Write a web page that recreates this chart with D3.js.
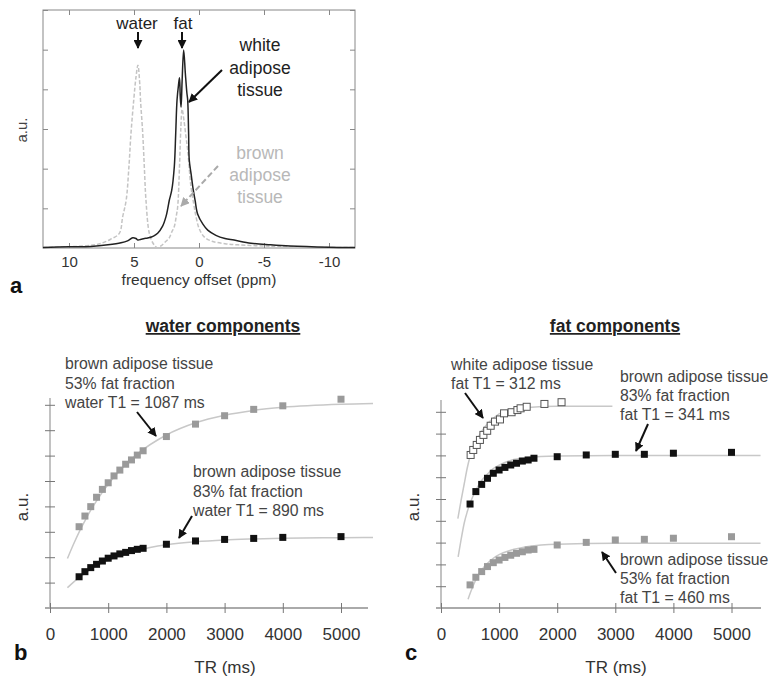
<!DOCTYPE html>
<html lang="en">
<head>
<meta charset="UTF-8">
<script src="https://d3js.org/d3.v7.min.js"></script>
<title>Adipose tissue spectra and T1</title>
<style>
    body { margin: 0; background: #fff; }
    svg { font-family: "Liberation Sans", Arial, sans-serif; }
    .tick text { fill: #333; }
    .ann { fill: #444; }
</style>
</head>
<body>
<div id="fig"></div>
<script>
// ---- panel a: spectra (ppm, a.u.) ----
const ppmWhite = [12, 10, 8.3, 7, 6, 5.5, 5.1, 4.85, 4.7, 4.45, 4.2, 3.95, 3.5, 3.18, 2.8, 2.54, 2.4, 2.28, 2.1, 1.9, 1.79, 1.69, 1.58, 1.5, 1.44, 1.38, 1.3, 1.18, 1.05, 0.93, 0.87, 0.8, 0.75, 0.6, 0.48, 0.3, 0.1, -0.3, -0.67, -1.3, -2, -2.7, -4, -5.5, -7, -10, -12];
const valWhite = [0.01, 0.03, 0.04, 0.08, 0.13, 0.18, 0.26, 0.24, 0.2, 0.22, 0.24, 0.25, 0.3, 0.37, 0.55, 0.79, 1.0, 1.21, 1.45, 2.05, 2.9, 3.73, 4.1, 4.29, 3.8, 3.55, 4.2, 4.99, 4.4, 3.9, 3.73, 2.9, 2.22, 1.85, 1.55, 1.2, 0.85, 0.6, 0.45, 0.32, 0.24, 0.2, 0.12, 0.08, 0.05, 0.02, 0.01];
const ppmBrown = [12, 10, 9, 8, 7.5, 6.8, 6.13, 5.87, 5.6, 5.4, 5.23, 5.02, 4.85, 4.7, 4.55, 4.5, 4.33, 4.2, 4.08, 3.82, 3.5, 3.18, 2.9, 2.6, 2.3, 2.1, 1.9, 1.75, 1.64, 1.5, 1.4, 1.3, 1.15, 1.0, 0.87, 0.62, 0.4, 0.23, 0, -0.4, -1, -2, -3, -5, -6, -8, -12];
const valBrown = [0.01, 0.03, 0.05, 0.08, 0.12, 0.22, 0.37, 0.79, 1.21, 2.0, 2.9, 3.73, 4.3, 4.61, 4.1, 3.73, 2.9, 2.0, 1.21, 0.37, 0.1, 0.0, 0.06, 0.15, 0.25, 0.4, 0.54, 0.8, 1.04, 2.05, 3.0, 3.5, 3.2, 2.8, 2.47, 1.55, 1.1, 0.79, 0.5, 0.28, 0.17, 0.11, 0.08, 0.05, 0.04, 0.02, 0.01];
const ppmTicks = [10, 5, 0, -5, -10];

// ---- panels b, c: saturation recovery, TR in ms ----
const trDense = [500, 600, 700, 800, 900, 1000, 1100, 1200, 1300, 1400, 1500, 1600];
const trLong = [2000, 2500, 3000, 3500, 4000, 5000];
const trTicks = [0, 1000, 2000, 3000, 4000, 5000];

// b: water components
const water53 = [3.20, 3.62, 3.99, 4.36, 4.67, 4.93, 5.20, 5.43, 5.66, 5.83, 6.02, 6.19, 6.75, 7.24, 7.57, 7.82, 7.96, 8.22];
const water83 = [1.23, 1.43, 1.59, 1.72, 1.85, 1.96, 2.05, 2.13, 2.19, 2.26, 2.31, 2.35, 2.51, 2.64, 2.70, 2.74, 2.78, 2.81];
const fitTrB = [300, 400, 500, 600, 700, 800, 1000, 1200, 1500, 2000, 2500, 3000, 3500, 4000, 5000, 5550];
const fitWater53 = [1.95, 2.49, 2.99, 3.43, 3.85, 4.22, 4.87, 5.41, 6.06, 6.81, 7.29, 7.59, 7.78, 7.90, 8.02, 8.05];
const fitWater83 = [0.80, 1.01, 1.20, 1.36, 1.52, 1.65, 1.88, 2.06, 2.27, 2.49, 2.61, 2.68, 2.72, 2.75, 2.77, 2.78];

// c: fat components
const trWhite = [510, 555, 615, 670, 730, 795, 855, 930, 1015, 1085, 1215, 1315, 1370, 1475, 1780, 2075];
const fatWhite = [7.02, 7.25, 7.48, 7.71, 7.94, 8.13, 8.36, 8.55, 8.65, 8.93, 8.98, 9.08, 9.16, 9.23, 9.36, 9.44];
const fat83 = [4.77, 5.34, 5.67, 5.95, 6.18, 6.33, 6.45, 6.56, 6.64, 6.74, 6.79, 6.87, 6.94, 7.02, 7.05, 7.05, 7.10, 7.14];
const fat53 = [1.06, 1.41, 1.67, 1.90, 2.08, 2.20, 2.32, 2.42, 2.51, 2.58, 2.66, 2.69, 2.89, 3.01, 3.12, 3.15, 3.20, 3.27];
const fitTrWhite = [290, 350, 400, 450, 500, 600, 700, 800, 900, 1000, 1200, 1500, 2000, 2950];
const fitFatWhite = [4.1, 5.0, 5.7, 6.4, 6.95, 7.6, 8.1, 8.45, 8.7, 8.9, 9.1, 9.2, 9.25, 9.25];
const fitTr83 = [295, 350, 400, 450, 500, 600, 700, 800, 900, 1000, 1200, 1500, 2000, 3000, 5500];
const fitFat83 = [2.35, 3.2, 3.9, 4.4, 4.8, 5.4, 5.85, 6.15, 6.4, 6.55, 6.77, 6.9, 6.97, 7.0, 7.0];
const fitTr53 = [465, 520, 600, 700, 800, 900, 1000, 1200, 1500, 2000, 3000, 5500];
const fitFat53 = [0.4, 0.8, 1.3, 1.75, 2.05, 2.28, 2.45, 2.65, 2.82, 2.93, 2.97, 2.97];

const width = 773, height = 679;
const svg = d3.select("#fig").append("svg")
    .attr("width", width)
    .attr("height", height);

const defs = svg.append("defs");
function arrowHead(id, color) {
    defs.append("marker")
        .attr("id", id)
        .attr("viewBox", "0 0 10 10")
        .attr("refX", 9).attr("refY", 5)
        .attr("markerWidth", 4.5).attr("markerHeight", 4.5)
        .attr("orient", "auto")
        .append("path")
        .attr("d", "M0,0 L10,5 L0,10 z")
        .attr("fill", color);
}
arrowHead("headBlack", "#111");
arrowHead("headGray", "#aaa");

function arrow(x1, y1, x2, y2, color, dashed) {
    svg.append("line")
        .attr("x1", x1).attr("y1", y1).attr("x2", x2).attr("y2", y2)
        .attr("stroke", color)
        .attr("stroke-width", 2)
        .attr("stroke-dasharray", dashed ? "6,3" : null)
        .attr("marker-end", dashed ? "url(#headGray)" : "url(#headBlack)");
}

function textLines(lines, x, y, dy, cls, anchor, color, size) {
    const t = svg.append("text")
        .attr("class", cls)
        .attr("text-anchor", anchor)
        .attr("fill", color)
        .style("font-size", size);
    lines.forEach((s, i) => {
        t.append("tspan").attr("x", x).attr("y", y + i * dy).text(s);
    });
}

// =============== panel a ===============
const xA = d3.scaleLinear().domain([12, -12]).range([43, 355]);
const yA = d3.scaleLinear().domain([0, 6]).range([248, 10]);
const gA = svg.append("g");

gA.append("rect")
    .attr("x", 43).attr("y", 10).attr("width", 312).attr("height", 238)
    .attr("fill", "none").attr("stroke", "#888").attr("stroke-width", 1);

const axA = [
    [d3.axisBottom(xA).tickValues(ppmTicks).tickFormat(d => String(d)), 248],
    [d3.axisTop(xA).tickValues(ppmTicks).tickFormat(""), 10]
];
axA.forEach(([ax, ty]) => {
    const g = gA.append("g").attr("transform", `translate(0,${ty})`)
        .call(ax.tickSizeInner(-5).tickSizeOuter(0).tickPadding(8));
    g.select(".domain").remove();
    g.selectAll(".tick line").attr("stroke", "#888");
    g.selectAll(".tick text").style("font-size", "15px");
});
[[d3.axisLeft(yA), 43], [d3.axisRight(yA), 355]].forEach(([ax, tx]) => {
    const g = gA.append("g").attr("transform", `translate(${tx},0)`)
        .call(ax.tickValues([1, 2, 3, 4, 5, 6]).tickFormat("").tickSizeInner(-5).tickSizeOuter(0));
    g.select(".domain").remove();
    g.selectAll(".tick line").attr("stroke", "#888");
});

const lineA = d3.line().x(d => xA(d[0])).y(d => yA(d[1])).curve(d3.curveCatmullRom);
gA.append("path")
    .datum(d3.zip(ppmBrown, valBrown))
    .attr("d", lineA)
    .attr("fill", "none").attr("stroke", "#c4c4c4")
    .attr("stroke-width", 1.5).attr("stroke-dasharray", "4,2");
gA.append("path")
    .datum(d3.zip(ppmWhite, valWhite))
    .attr("d", lineA)
    .attr("fill", "none").attr("stroke", "#222").attr("stroke-width", 1.5);

svg.append("text").attr("x", 199).attr("y", 285).attr("text-anchor", "middle")
    .attr("fill", "#333").style("font-size", "15.5px").text("frequency offset (ppm)");
svg.append("text").attr("transform", "translate(27,130) rotate(-90)")
    .attr("text-anchor", "middle").attr("fill", "#444").style("font-size", "15px").text("a.u.");
svg.append("text").attr("x", 10).attr("y", 293).style("font-size", "22px")
    .style("font-weight", "bold").attr("fill", "#111").text("a");

svg.append("text").attr("x", 137).attr("y", 29).attr("text-anchor", "middle")
    .attr("fill", "#222").style("font-size", "17px").text("water");
svg.append("text").attr("x", 183).attr("y", 29).attr("text-anchor", "middle")
    .attr("fill", "#222").style("font-size", "17px").text("fat");
arrow(138, 32, 138, 48, "#111", false);
arrow(182, 32, 182, 48, "#111", false);
textLines(["white", "adipose", "tissue"], 260, 51, 22.5, "", "middle", "#222", "17.5px");
textLines(["brown", "adipose", "tissue"], 260, 159, 22, "", "middle", "#b8b8b8", "17.5px");
arrow(222, 70, 189, 102, "#111", false);
arrow(218, 166, 181, 206, "#aaa", true);

// =============== panels b and c ===============
function recoveryPanel(opts) {
    const x = d3.scaleLinear().domain([0, 5500]).range([opts.x0, opts.x0 + 5500 * opts.kx]);
    const y = d3.scaleLinear().domain([0, opts.ymax]).range([608, 608 - opts.ymax * opts.ky]);
    const g = svg.append("g");

    // axes: lines with ticks crossing them
    g.append("line").attr("x1", opts.x0).attr("x2", opts.x0)
        .attr("y1", 608).attr("y2", opts.yTop)
        .attr("stroke", "#999").attr("stroke-width", 1.2);
    g.append("line").attr("x1", opts.x0 - 5).attr("x2", opts.xEnd)
        .attr("y1", 608).attr("y2", 608)
        .attr("stroke", "#aaa").attr("stroke-width", 2);

    const gx = g.append("g").attr("transform", "translate(0,613)")
        .call(d3.axisBottom(x).tickValues(trTicks).tickFormat(d => String(d))
            .tickSizeInner(-10).tickSizeOuter(0).tickPadding(15));
    gx.select(".domain").remove();
    gx.selectAll(".tick line").attr("stroke", "#777");
    gx.selectAll(".tick text").style("font-size", "17px");

    const gy = g.append("g").attr("transform", `translate(${opts.x0 + 5},0)`)
        .call(d3.axisLeft(y).tickValues(d3.range(1, opts.ymax + 1)).tickFormat("").tickSizeInner(10).tickSizeOuter(0));
    gy.select(".domain").remove();
    gy.selectAll(".tick line").attr("stroke", "#777");

    const line = d3.line().x(d => x(d[0])).y(d => y(d[1])).curve(d3.curveMonotoneX);
    opts.fits.forEach(f => {
        g.append("path").datum(d3.zip(f[0], f[1])).attr("d", line)
            .attr("fill", "none").attr("stroke", "#c8c8c8").attr("stroke-width", 1.5);
    });

    const s = 7;
    opts.series.forEach(se => {
        g.append("g").selectAll("rect")
            .data(d3.zip(se.tr, se.val))
            .enter().append("rect")
            .attr("x", d => x(d[0]) - s / 2)
            .attr("y", d => y(d[1]) - s / 2)
            .attr("width", s).attr("height", s)
            .attr("fill", se.fill)
            .attr("stroke", se.stroke || "none")
            .attr("stroke-width", se.stroke ? 1 : 0);
    });

    svg.append("text").attr("x", opts.titleX).attr("y", 332).attr("text-anchor", "middle")
        .attr("fill", "#222").style("font-size", "17.5px").style("font-weight", "bold")
        .style("text-decoration", "underline").text(opts.title);
    svg.append("text").attr("x", opts.x0 + 175).attr("y", 673).attr("text-anchor", "middle")
        .attr("fill", "#333").style("font-size", "17px").text("TR (ms)");
    svg.append("text").attr("transform", `translate(${opts.x0 - 22},507) rotate(-90)`)
        .attr("text-anchor", "middle").attr("fill", "#333").style("font-size", "17px").text("a.u.");
    svg.append("text").attr("x", opts.x0 - 36).attr("y", 660).style("font-size", "22px")
        .style("font-weight", "bold").attr("fill", "#111").text(opts.letter);
}

const trAll = trDense.concat(trLong);

recoveryPanel({
    x0: 50, kx: 0.0582, ymax: 8, ky: 25.4, yTop: 398, xEnd: 368,
    title: "water components", titleX: 223, letter: "b",
    fits: [[fitTrB, fitWater53], [fitTrB, fitWater83]],
    series: [
        { tr: trAll, val: water53, fill: "#9a9a9a" },
        { tr: trAll, val: water83, fill: "#111" }
    ]
});

recoveryPanel({
    x0: 441, kx: 0.0581, ymax: 9, ky: 21.8, yTop: 400, xEnd: 761,
    title: "fat components", titleX: 615, letter: "c",
    fits: [[fitTrWhite, fitFatWhite], [fitTr83, fitFat83], [fitTr53, fitFat53]],
    series: [
        { tr: trWhite, val: fatWhite, fill: "#fff", stroke: "#555" },
        { tr: trAll, val: fat83, fill: "#111" },
        { tr: trAll, val: fat53, fill: "#9a9a9a" }
    ]
});

// annotations panel b
textLines(["brown adipose tissue", "53% fat fraction", "water T1 = 1087 ms"], 65, 369, 19.5, "ann", "start", "#444", "15.8px");
textLines(["brown adipose tissue", "83% fat fraction", "water T1 = 890 ms"], 193, 477, 19.5, "ann", "start", "#444", "15.8px");
arrow(137, 412, 156, 436, "#111", false);
arrow(192, 516, 179, 538, "#111", false);

// annotations panel c
textLines(["white adipose tissue", "fat T1 = 312 ms"], 451, 370, 19, "ann", "start", "#444", "15.8px");
textLines(["brown adipose tissue", "83% fat fraction", "fat T1 = 341 ms"], 620, 382, 19, "ann", "start", "#444", "15.8px");
textLines(["brown adipose tissue", "53% fat fraction", "fat T1 = 460 ms"], 620, 565, 19, "ann", "start", "#444", "15.8px");
arrow(465, 393, 483, 418, "#111", false);
arrow(648, 424, 636, 451, "#111", false);
arrow(616, 573, 602, 552, "#111", false);
</script>
</body>
</html>
